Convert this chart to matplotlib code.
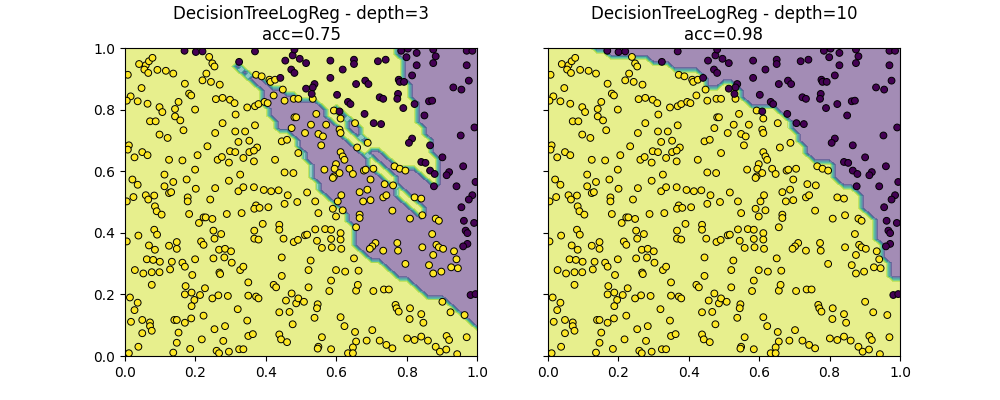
"""Two decision-surface panels: DecisionTreeLogReg at depth 3 and depth 10."""

import matplotlib

matplotlib.use("Agg")

import matplotlib.pyplot as plt
import numpy as np
from matplotlib.path import Path

YELLOW_PTS = [
    (0.040, 0.948), (0.059, 0.944), (0.068, 0.957), (0.078, 0.968), (0.055, 0.930),
    (0.066, 0.919), (0.092, 0.929), (0.116, 0.926), (0.137, 0.917), (0.008, 0.913),
    (0.239, 0.971), (0.248, 0.950), (0.254, 0.940), (0.231, 0.917), (0.220, 0.895),
    (0.244, 0.890), (0.269, 0.881), (0.170, 0.884), (0.047, 0.870), (0.182, 0.852),
    (0.188, 0.846), (0.016, 0.843), (0.005, 0.829), (0.036, 0.827), (0.064, 0.819),
    (0.098, 0.808), (0.106, 0.792), (0.142, 0.802), (0.152, 0.825), (0.199, 0.800),
    (0.142, 0.778), (0.157, 0.765), (0.071, 0.762), (0.087, 0.762), (0.166, 0.733),
    (0.098, 0.719), (0.121, 0.708), (0.234, 0.681), (0.256, 0.724), (0.277, 0.756),
    (0.258, 0.834), (0.277, 0.838), (0.298, 0.832), (0.311, 0.821), (0.314, 0.784),
    (0.313, 0.729), (0.322, 0.695), (0.341, 0.729), (0.011, 0.684),
    (0.372, 0.913), (0.388, 0.908), (0.410, 0.897), (0.413, 0.890), (0.426, 0.897),
    (0.448, 0.865), (0.347, 0.807), (0.369, 0.811), (0.379, 0.818), (0.396, 0.825),
    (0.405, 0.821), (0.422, 0.846), (0.453, 0.829), (0.479, 0.835), (0.492, 0.835),
    (0.533, 0.835), (0.593, 0.797), (0.612, 0.771), (0.653, 0.756), (0.543, 0.786),
    (0.481, 0.775), (0.486, 0.775), (0.369, 0.749), (0.473, 0.740), (0.511, 0.724),
    (0.528, 0.751), (0.549, 0.721), (0.562, 0.713), (0.571, 0.751), (0.609, 0.735),
    (0.612, 0.724), (0.353, 0.699), (0.445, 0.697), (0.460, 0.702), (0.375, 0.677),
    (0.557, 0.684), (0.659, 0.677), (0.689, 0.692),
    (0.008, 0.670), (0.027, 0.645), (0.049, 0.662), (0.064, 0.652), (0.125, 0.637),
    (0.163, 0.635), (0.206, 0.652), (0.263, 0.637), (0.275, 0.646), (0.295, 0.628),
    (0.298, 0.665), (0.313, 0.662), (0.336, 0.643), (0.199, 0.605), (0.112, 0.589),
    (0.327, 0.589), (0.021, 0.573), (0.036, 0.556), (0.137, 0.565), (0.112, 0.551),
    (0.175, 0.573), (0.295, 0.569), (0.201, 0.543), (0.256, 0.545), (0.125, 0.529),
    (0.131, 0.532), (0.059, 0.522), (0.083, 0.521), (0.066, 0.508), (0.024, 0.516),
    (0.005, 0.502), (0.178, 0.515), (0.178, 0.502), (0.242, 0.508), (0.322, 0.535),
    (0.336, 0.548), (0.085, 0.486), (0.090, 0.470), (0.104, 0.459), (0.182, 0.461),
    (0.210, 0.432), (0.223, 0.450), (0.229, 0.450), (0.248, 0.445), (0.289, 0.461),
    (0.331, 0.464), (0.083, 0.410), (0.091, 0.394), (0.038, 0.391), (0.005, 0.372),
    (0.068, 0.359), (0.085, 0.345), (0.125, 0.358), (0.147, 0.370), (0.147, 0.348),
    (0.216, 0.372), (0.223, 0.361), (0.251, 0.407), (0.273, 0.396), (0.254, 0.381),
    (0.267, 0.345), (0.284, 0.348), (0.301, 0.340),
    (0.353, 0.662), (0.366, 0.667), (0.366, 0.632), (0.426, 0.637), (0.492, 0.659),
    (0.612, 0.662), (0.618, 0.648), (0.623, 0.637), (0.599, 0.623), (0.566, 0.605),
    (0.595, 0.608), (0.593, 0.583), (0.590, 0.578), (0.609, 0.594), (0.637, 0.608),
    (0.647, 0.591), (0.453, 0.596), (0.478, 0.594), (0.366, 0.548), (0.394, 0.539),
    (0.415, 0.535), (0.436, 0.538), (0.462, 0.522), (0.517, 0.531), (0.453, 0.494),
    (0.489, 0.500), (0.540, 0.502), (0.614, 0.522), (0.604, 0.502), (0.666, 0.532),
    (0.590, 0.478), (0.618, 0.473), (0.599, 0.453), (0.549, 0.464), (0.372, 0.489),
    (0.367, 0.478), (0.382, 0.481), (0.407, 0.483), (0.391, 0.429), (0.438, 0.426),
    (0.438, 0.410), (0.367, 0.407), (0.367, 0.381), (0.379, 0.378), (0.450, 0.381),
    (0.479, 0.370), (0.491, 0.377), (0.511, 0.392), (0.517, 0.394), (0.540, 0.411),
    (0.568, 0.412), (0.585, 0.410), (0.612, 0.399), (0.545, 0.374), (0.559, 0.351),
    (0.585, 0.380), (0.612, 0.378), (0.587, 0.353), (0.614, 0.348), (0.666, 0.459),
    (0.666, 0.448), (0.656, 0.418),
    (0.765, 0.616), (0.780, 0.608), (0.796, 0.602), (0.678, 0.602), (0.683, 0.605),
    (0.705, 0.608), (0.697, 0.573), (0.737, 0.558), (0.761, 0.554), (0.688, 0.540),
    (0.733, 0.515), (0.742, 0.522), (0.822, 0.515), (0.841, 0.511), (0.676, 0.502),
    (0.697, 0.506), (0.759, 0.472), (0.809, 0.446), (0.844, 0.457), (0.882, 0.446),
    (0.891, 0.439), (0.872, 0.396), (0.711, 0.367), (0.702, 0.356), (0.695, 0.348),
    (0.733, 0.342), (0.773, 0.367), (0.775, 0.342), (0.844, 0.353), (0.884, 0.361),
    (0.891, 0.353), (0.903, 0.348), (0.934, 0.340),
    (0.062, 0.314), (0.080, 0.312), (0.099, 0.306), (0.133, 0.306), (0.163, 0.303),
    (0.170, 0.290), (0.199, 0.314), (0.251, 0.317), (0.282, 0.320), (0.303, 0.303),
    (0.028, 0.279), (0.052, 0.268), (0.076, 0.272), (0.098, 0.272), (0.128, 0.281),
    (0.191, 0.263), (0.268, 0.271), (0.270, 0.266), (0.327, 0.279), (0.336, 0.290),
    (0.076, 0.231), (0.172, 0.227), (0.227, 0.220), (0.170, 0.200), (0.189, 0.206),
    (0.197, 0.182), (0.213, 0.198), (0.248, 0.187), (0.265, 0.197), (0.292, 0.195),
    (0.014, 0.190), (0.036, 0.173), (0.027, 0.149), (0.189, 0.162), (0.223, 0.131),
    (0.320, 0.152), (0.017, 0.111), (0.049, 0.117), (0.071, 0.109), (0.071, 0.097),
    (0.076, 0.082), (0.140, 0.117), (0.147, 0.117), (0.170, 0.108), (0.188, 0.122),
    (0.049, 0.074), (0.152, 0.076), (0.254, 0.087), (0.284, 0.097), (0.038, 0.030),
    (0.147, 0.043), (0.185, 0.023), (0.218, 0.054), (0.279, 0.049), (0.011, 0.009),
    (0.137, 0.011), (0.260, 0.017), (0.267, 0.009), (0.295, 0.014), (0.324, 0.022),
    (0.336, 0.022),
    (0.445, 0.320), (0.527, 0.310), (0.650, 0.317), (0.445, 0.260), (0.521, 0.279),
    (0.599, 0.279), (0.625, 0.274), (0.663, 0.277), (0.350, 0.239), (0.422, 0.231),
    (0.429, 0.223), (0.585, 0.245), (0.521, 0.223), (0.580, 0.211), (0.656, 0.212),
    (0.661, 0.231), (0.473, 0.203), (0.457, 0.180), (0.486, 0.171), (0.492, 0.187),
    (0.508, 0.176), (0.350, 0.196), (0.372, 0.193), (0.379, 0.187), (0.547, 0.168),
    (0.545, 0.155), (0.438, 0.142), (0.467, 0.143), (0.538, 0.124), (0.476, 0.103),
    (0.347, 0.115), (0.612, 0.126), (0.623, 0.097), (0.653, 0.078), (0.350, 0.065),
    (0.363, 0.071), (0.438, 0.070), (0.443, 0.054), (0.460, 0.045), (0.559, 0.061),
    (0.549, 0.030), (0.547, 0.024), (0.585, 0.022), (0.656, 0.047), (0.647, 0.028),
    (0.633, 0.009), (0.647, 0.009),
    (0.875, 0.328), (0.941, 0.314), (0.796, 0.299), (0.863, 0.295), (0.875, 0.268),
    (0.898, 0.274), (0.926, 0.288), (0.945, 0.285), (0.705, 0.211), (0.735, 0.216),
    (0.749, 0.216), (0.901, 0.176), (0.768, 0.166), (0.771, 0.155), (0.777, 0.144),
    (0.809, 0.155), (0.841, 0.136), (0.924, 0.142), (0.964, 0.133), (0.808, 0.120),
    (0.847, 0.108), (0.702, 0.084), (0.686, 0.050), (0.723, 0.050), (0.742, 0.036),
    (0.759, 0.025), (0.801, 0.057), (0.822, 0.052), (0.841, 0.063), (0.860, 0.050),
    (0.882, 0.030), (0.894, 0.014), (0.912, 0.021), (0.913, 0.065), (0.920, 0.052),
    (0.970, 0.061), (0.943, 0.006),
]

PURPLE_PTS = [
    (0.169, 0.991), (0.201, 0.987), (0.220, 0.989), (0.324, 0.955), (0.369, 0.989),
    (0.455, 0.959), (0.476, 0.976), (0.481, 0.995), (0.496, 0.965), (0.514, 0.951),
    (0.472, 0.930), (0.481, 0.919), (0.441, 0.903), (0.583, 0.959), (0.583, 0.903),
    (0.618, 0.930), (0.650, 0.962), (0.650, 0.948), (0.538, 0.883), (0.533, 0.872),
    (0.514, 0.868), (0.530, 0.851), (0.602, 0.848), (0.633, 0.825), (0.640, 0.818),
    (0.609, 0.794), (0.656, 0.883), (0.682, 0.894), (0.691, 0.883), (0.680, 0.786),
    (0.706, 0.756), (0.727, 0.753), (0.718, 0.957), (0.740, 0.962), (0.784, 0.991),
    (0.803, 0.998), (0.828, 0.984), (0.875, 0.995), (0.970, 0.991), (0.986, 0.991),
    (0.799, 0.970), (0.828, 0.944), (0.882, 0.973), (0.875, 0.951), (0.970, 0.944),
    (0.777, 0.897), (0.780, 0.890), (0.792, 0.890), (0.815, 0.911), (0.932, 0.872),
    (0.955, 0.865), (0.976, 0.894), (0.723, 0.840), (0.733, 0.835), (0.775, 0.851),
    (0.773, 0.835), (0.790, 0.805), (0.822, 0.818), (0.863, 0.827), (0.872, 0.829),
    (0.850, 0.781), (0.992, 0.742), (0.953, 0.716), (0.815, 0.706), (0.806, 0.692),
    (0.866, 0.684), (0.901, 0.645), (0.841, 0.630), (0.853, 0.627), (0.866, 0.602),
    (0.879, 0.591), (0.920, 0.597), (0.913, 0.587), (0.960, 0.616), (0.877, 0.551),
    (0.941, 0.551), (0.995, 0.565), (0.986, 0.522), (0.976, 0.508), (0.955, 0.483),
    (0.962, 0.439), (0.991, 0.432), (0.967, 0.407), (0.972, 0.399), (0.972, 0.364),
    (0.960, 0.356), (0.981, 0.198), (0.995, 0.201),
]

# outline of the area each model predicts as the purple class
DEPTH3_REGION = [
    (0.762, 1.02), (1.02, 1.02), (1.02, 0.091), (1.0, 0.091), (0.937, 0.156),
    (0.890, 0.188), (0.852, 0.199), (0.805, 0.242), (0.758, 0.275), (0.720, 0.307),
    (0.663, 0.340), (0.644, 0.405), (0.630, 0.459), (0.606, 0.481), (0.559, 0.535),
    (0.540, 0.567), (0.516, 0.632), (0.492, 0.686), (0.464, 0.719), (0.436, 0.740),
    (0.417, 0.784), (0.393, 0.816), (0.379, 0.870), (0.301, 0.951), (0.308, 0.965),
    (0.374, 0.905), (0.398, 0.886), (0.445, 0.859), (0.492, 0.838), (0.568, 0.816),
    (0.616, 0.794), (0.663, 0.740), (0.691, 0.686), (0.758, 0.627), (0.814, 0.605),
    (0.862, 0.578), (0.895, 0.545), (0.900, 0.589), (0.885, 0.632), (0.871, 0.675),
    (0.857, 0.708), (0.843, 0.751), (0.824, 0.805), (0.814, 0.848), (0.795, 0.892),
    (0.786, 0.935), (0.777, 0.978),
]
# thin sliver of the yellow class running through the depth-3 band
DEPTH3_STRIPE = [(0.558, 0.797), (0.578, 0.813), (0.853, 0.467), (0.833, 0.451)]

DEPTH10_REGION = [
    (0.128, 1.02), (0.128, 1.0), (0.204, 0.965), (0.330, 0.957), (0.386, 0.919),
    (0.405, 0.940), (0.443, 0.903), (0.462, 0.859), (0.472, 0.870), (0.495, 0.886),
    (0.524, 0.886), (0.552, 0.848), (0.580, 0.811), (0.661, 0.797), (0.678, 0.767),
    (0.716, 0.719), (0.721, 0.675), (0.754, 0.648), (0.760, 0.630), (0.800, 0.628),
    (0.815, 0.610), (0.815, 0.562), (0.853, 0.554), (0.891, 0.513), (0.898, 0.497),
    (0.901, 0.464), (0.934, 0.446), (0.936, 0.399), (0.943, 0.356), (0.953, 0.331),
    (0.972, 0.295), (0.972, 0.263), (1.0, 0.252), (1.02, 0.252), (1.02, 1.02),
]

TITLES = [
    "DecisionTreeLogReg - depth=3\nacc=0.75",
    "DecisionTreeLogReg - depth=10\nacc=0.98",
]


def predict_grid(xx, yy, region, carve=None):
    """1 where the yellow class is predicted, 0 inside the purple region."""
    pts = np.column_stack([xx.ravel(), yy.ravel()])
    z = np.where(Path(region).contains_points(pts), 0.0, 1.0)
    if carve is not None:
        z[Path(carve).contains_points(pts)] = 1.0
    return z.reshape(xx.shape)


def main() -> None:
    xs = np.linspace(0, 1, 51)
    xx, yy = np.meshgrid(xs, xs)
    surfaces = [
        predict_grid(xx, yy, DEPTH3_REGION, DEPTH3_STRIPE),
        predict_grid(xx, yy, DEPTH10_REGION),
    ]

    yel = np.array(YELLOW_PTS)
    pur = np.array(PURPLE_PTS)
    X = np.vstack([yel, pur])
    labels = np.r_[np.ones(len(yel)), np.zeros(len(pur))]

    fig, axes = plt.subplots(1, 2, figsize=(10, 4), sharey=True)
    for ax, z, title in zip(axes, surfaces, TITLES):
        ax.contourf(xx, yy, z, alpha=0.5)
        ax.scatter(X[:, 0], X[:, 1], c=labels, s=24, edgecolors="k",
                   linewidths=0.7, cmap="viridis")
        ax.set_xlim(0, 1)
        ax.set_ylim(0, 1)
        ax.set_title(title)
    fig.savefig("out.png", dpi=100)
    plt.close(fig)


if __name__ == "__main__":
    main()
